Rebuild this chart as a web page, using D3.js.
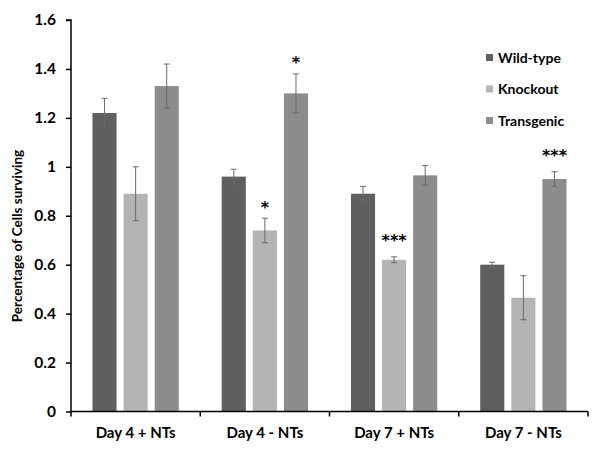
<!DOCTYPE html>
<html><head><meta charset="utf-8">
<script src="https://cdn.jsdelivr.net/npm/d3@7"></script>
<style>body{margin:0;background:#fff}svg{display:block}text{font-family:Lato,"Open Sans",sans-serif;font-weight:bold;fill:#000}</style>
</head><body>
<svg id="c" width="600" height="453"></svg>
<script>
const categories = ["Day 4 + NTs", "Day 4 - NTs", "Day 7 + NTs", "Day 7 - NTs"];
const seriesNames = ["Wild-type", "Knockout", "Transgenic"];
const wildType = [1.22, 0.96, 0.89, 0.60];
const knockout = [0.89, 0.74, 0.62, 0.465];
const transgenic = [1.33, 1.30, 0.965, 0.95];
const wildTypeErr = [0.06, 0.03, 0.03, 0.01];
const knockoutErr = [0.11, 0.05, 0.012, 0.09];
const transgenicErr = [0.09, 0.08, 0.04, 0.03];
const stars = [["", "", ""], ["", "*", "*"], ["", "***", ""], ["", "", "***"]];
const yTicks = [0, 0.2, 0.4, 0.6, 0.8, 1, 1.2, 1.4, 1.6];
const colors = ["#5f5f5f", "#b4b4b4", "#8c8c8c"];

const values = [wildType, knockout, transgenic];
const errs = [wildTypeErr, knockoutErr, transgenicErr];

(function () {
const svg = d3.select("#c");
const mLeft = 71, mRight = 588, mTop = 20, mBottom = 411.5;
const y = d3.scaleLinear().domain([0, 1.6]).range([mBottom, mTop]);
const x0 = d3.scaleBand().domain(categories).range([mLeft, mRight]).paddingInner(0).paddingOuter(0);
const x1 = d3.scaleBand().domain([0,1,2]).range([0, x0.bandwidth()]).paddingInner(0.225).paddingOuter(0.69);

const g = svg.append("g");
categories.forEach((c, ci) => {
  values.forEach((s, si) => {
    const bx = x0(c) + x1(si), bw = x1.bandwidth(), v = s[ci], e = errs[si][ci];
    g.append("rect").attr("x", bx).attr("y", y(v)).attr("width", bw).attr("height", y(0) - y(v)).attr("fill", colors[si]);
    const cx = bx + bw / 2;
    g.append("line").attr("x1", cx).attr("x2", cx).attr("y1", y(v + e)).attr("y2", y(v - e)).attr("stroke", "#6a6a6a").attr("stroke-width", 1);
    [v + e, v - e].forEach(t => g.append("line").attr("x1", cx - 3).attr("x2", cx + 3).attr("y1", y(t)).attr("y2", y(t)).attr("stroke", "#6a6a6a").attr("stroke-width", 1));
    const st = stars[ci][si];
    if (st) g.append("text").attr("x", cx).attr("y", y(v + e) - (st.length > 1 ? 10.5 : 5.5)).attr("text-anchor", "middle")
      .style("font-family", "'DejaVu Sans',sans-serif").style("font-size", "16px").text(st);
  });
});

const ya = svg.append("g").attr("transform", `translate(${mLeft},0)`)
  .call(d3.axisLeft(y).tickValues(yTicks).tickSize(5).tickPadding(10).tickFormat(d3.format("")));
ya.select(".domain").attr("stroke", "#000").attr("stroke-width", 1.5).attr("d", `M-5,${mTop}H0V${mBottom}`);
ya.selectAll(".tick line").attr("stroke", "#000").attr("stroke-width", 1.5);
ya.selectAll("text").style("font-size", "15.5px").style("font-family", "Lato,sans-serif").style("font-weight", "bold").attr("fill", "#000");

const xa = svg.append("g").attr("transform", `translate(0,${mBottom})`)
  .call(d3.axisBottom(x0).tickSize(0).tickPadding(16));
xa.select(".domain").attr("stroke", "#000").attr("stroke-width", 1.5).attr("d", `M${mLeft},0H${mRight}`);
xa.selectAll("text").style("font-size", "15px").style("font-family", "Lato,sans-serif").style("font-weight", "bold").attr("fill", "#000");
const bounds = [mLeft].concat(categories.map(c => x0(c) + x0.bandwidth()));
svg.append("g").selectAll("line").data(bounds).join("line")
  .attr("x1", d => d).attr("x2", d => d).attr("y1", mBottom).attr("y2", mBottom + 5).attr("stroke", "#000").attr("stroke-width", 1.5);

svg.append("text").attr("transform", `translate(22,236) rotate(-90)`).attr("text-anchor", "middle")
  .style("font-size", "13.5px").text("Percentage of Cells surviving");

const lg = svg.append("g");
seriesNames.forEach((n, i) => {
  const ly = 57.5 + i * 31.5;
  lg.append("rect").attr("x", 486).attr("y", ly - 3.5).attr("width", 7).attr("height", 7).attr("fill", colors[i]);
  lg.append("text").attr("x", 498).attr("y", ly + 5).style("font-size", "14px").text(n);
});
})();
</script>
</body></html>
